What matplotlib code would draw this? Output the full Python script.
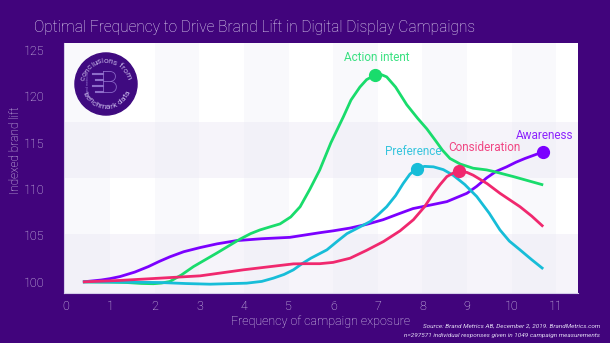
import numpy as np
import matplotlib
matplotlib.use("Agg")
import matplotlib.pyplot as plt
from matplotlib.patches import Circle

plt.rcParams['font.family'] = ['Roboto', 'DejaVu Sans']

# ---------------- data ----------------
awareness_x = [0.39, 0.8, 1.0, 1.22, 1.55, 1.86, 2.1, 2.34, 2.65, 3.02, 3.4, 3.84, 4.4, 5.03, 5.7, 6.0, 6.38, 6.75, 7.12, 7.45, 7.79, 8.2, 8.55, 9.0, 9.22, 9.44, 9.65, 9.89, 10.1, 10.3, 10.5, 10.7]
awareness_y = [100.0, 100.2, 100.35, 100.57, 101.05, 101.65, 102.2, 102.7, 103.25, 103.7, 104.1, 104.45, 104.65, 104.8, 105.3, 105.5, 105.8, 106.2, 106.7, 107.3, 107.9, 108.3, 108.65, 109.55, 110.3, 111.2, 111.9, 112.4, 112.9, 113.3, 113.65, 114.0]

action_x = [0.39, 1.0, 1.37, 1.7, 1.97, 2.15, 2.34, 2.6, 2.87, 3.39, 3.91, 4.15, 4.36, 4.6, 4.81, 5.05, 5.26, 5.48, 5.70, 5.95, 6.23, 6.4, 6.60, 6.75, 6.94, 7.05, 7.2, 7.4, 7.65, 7.9, 8.1, 8.3, 8.45, 8.62, 8.85, 9.14, 9.44, 9.6, 10.04, 10.71]
action_y = [100.0, 99.97, 99.93, 99.83, 99.8, 99.87, 100.04, 100.75, 101.65, 103.1, 104.6, 105.2, 105.6, 105.95, 106.25, 107.0, 108.1, 110.0, 112.07, 115.0, 117.8, 119.6, 121.0, 121.8, 122.3, 122.4, 122.1, 121.0, 119.1, 117.6, 116.5, 115.2, 114.2, 113.3, 112.7, 112.25, 112.07, 111.9, 111.35, 110.45]

preference_x = [0.39, 1.2, 2.12, 2.7, 3.24, 4.06, 4.4, 4.66, 4.9, 5.11, 5.3, 5.5, 5.86, 6.1, 6.31, 6.55, 6.83, 7.0, 7.2, 7.4, 7.57, 7.72, 7.87, 8.05, 8.25, 8.47, 8.69, 8.95, 9.22, 9.5, 9.74, 9.95, 10.19, 10.45, 10.71]
preference_y = [100.0, 99.98, 99.93, 99.82, 99.75, 99.86, 100.05, 100.4, 100.8, 101.3, 101.95, 102.55, 103.45, 104.4, 105.2, 105.8, 106.5, 107.2, 108.1, 109.3, 110.6, 111.6, 112.2, 112.45, 112.4, 112.1, 111.5, 110.5, 109.2, 107.4, 105.6, 104.4, 103.45, 102.4, 101.4]

consideration_x = [0.39, 1.2, 2.12, 3.02, 3.99, 4.6, 5.11, 5.4, 5.70, 6.0, 6.38, 6.75, 7.13, 7.5, 7.80, 8.05, 8.25, 8.4, 8.55, 8.7, 8.83, 9.0, 9.14, 9.45, 9.74, 10.19, 10.45, 10.71]
consideration_y = [100.0, 100.15, 100.4, 100.65, 101.3, 101.65, 101.94, 101.96, 101.96, 102.1, 102.55, 103.4, 104.35, 105.5, 106.7, 108.1, 109.55, 110.5, 111.35, 111.75, 111.9, 111.8, 111.5, 110.6, 109.55, 108.1, 107.1, 105.96]

series_names = ["Awareness", "Action intent", "Preference", "Consideration"]
series_colors = ["#7b00ff", "#19dc6c", "#17bdd8", "#f0286e"]
# highlighted point index in each series
highlight_idx = [31, 24, 22, 20]
# label anchor (data coords)
label_pos = [(10.75, 115.8), (6.97, 124.2), (7.79, 114.1), (9.38, 114.5)]

x_ticks = list(range(0, 12))
y_ticks = [100, 105, 110, 115, 120, 125]

title = "Optimal Frequency to Drive Brand Lift in Digital Display Campaigns"
x_label = "Frequency of campaign exposure"
y_label = "Indexed brand lift"
source_lines = ["Source: Brand Metrics AB, December 2, 2019. BrandMetrics.com",
                "n=297571 individual responses given in 1049 campaign measurements"]

# ---------------- figure ----------------
BG = "#41047c"
TXT = "#e2daf3"
W, H = 610, 343
fig = plt.figure(figsize=(W / 100, H / 100), dpi=100, facecolor=BG)
ax = fig.add_axes([64 / W, 1 - 293 / H, (578 - 64) / W, (293 - 43) / H])
ax.set_facecolor("white")
ax.set_xlim(-0.034, 11.49)
ax.set_ylim(98.8, 125.75)

# background bands
for lo, hi in [(98.8, 105.2), (111.2, 117.2)]:
    ax.axhspan(lo, hi, color="#f6f4fa", lw=0, zorder=0)
for lo in range(0, 12, 2):
    ax.axvspan(lo, lo + 1, color="#ececf6", alpha=0.3, lw=0, zorder=0)

xs = [awareness_x, action_x, preference_x, consideration_x]
ys = [awareness_y, action_y, preference_y, consideration_y]
for xv, yv, c, hi, name, lp in zip(xs, ys, series_colors, highlight_idx, series_names, label_pos):
    ax.plot(xv, yv, color=c, lw=2.0, solid_capstyle="butt", solid_joinstyle="round", zorder=3)
    ax.plot([xv[hi]], [yv[hi]], "o", color=c, ms=8.5, zorder=4)
    ax.text(lp[0], lp[1], name, color=c, fontsize=8.5, ha="center", va="center", alpha=0.85, zorder=5)

ax.set_xticks(x_ticks)
ax.set_yticks(y_ticks)
ax.tick_params(axis="both", length=0, colors=TXT, labelsize=9)
ax.tick_params(axis="y", pad=14)
ax.tick_params(axis="x", pad=5)
for lab in ax.get_xticklabels() + ax.get_yticklabels():
    lab.set_fontweight("light")
for s in ["top", "right"]:
    ax.spines[s].set_visible(False)
for s in ["left", "bottom"]:
    ax.spines[s].set_color("#d4cce9")
    ax.spines[s].set_linewidth(0.8)

fig.text(34 / W, 1 - 27 / H, title, color=TXT, fontsize=11.2, fontweight="light", ha="left", va="center")
fig.text(321 / W, 1 - 322 / H, x_label, color=TXT, fontsize=9, fontweight="light", ha="center", va="center")
fig.text(16 / W, 1 - 150 / H, y_label, color=TXT, fontsize=8.5, fontweight="light", rotation=90, ha="center", va="center")
fig.text(600 / W, 1 - 326 / H, source_lines[0], color=TXT, fontsize=4.6, style="italic", ha="right", va="center")
fig.text(600 / W, 1 - 335 / H, source_lines[1], color=TXT, fontsize=4.6, style="italic", ha="right", va="center")

# ---------------- logo ----------------
cx, cy, r = 106, 84, 32
lax = fig.add_axes([(cx - r) / W, 1 - (cy + r) / H, 2 * r / W, 2 * r / H])
lax.set_xlim(-1, 1)
lax.set_ylim(-1, 1)
lax.axis("off")
lax.add_patch(Circle((0, 0), 0.97, color="#3f0a80", zorder=1))
LOGO = "#c3b2e6"


def char_w(ch):
    if ch in "il":
        return 0.45
    if ch in " frt":
        return 0.65
    if ch == "m":
        return 1.5
    return 1.0


def arc_text(text, a0, a1, rad, upper):
    w = np.array([char_w(c) for c in text])
    cum = np.cumsum(w) - w / 2
    frac = cum / w.sum()
    for ch, f in zip(text, frac):
        a = a0 + (a1 - a0) * f
        t = np.deg2rad(a)
        rot = a - 90 if upper else a + 90
        lax.text(rad * np.cos(t), rad * np.sin(t), ch, rotation=rot, color=LOGO,
                 fontsize=6, ha="center", va="center", rotation_mode="anchor", zorder=3)


arc_text("conclusions from", 172, 14, 0.72, True)
arc_text("benchmark data", 200, 342, 0.72, False)
lax.text(0.1, -0.02, "B", color="#8d6cc9", fontsize=22, fontweight="light", ha="center", va="center", zorder=2)
for yy, x0 in zip([0.3, 0.12, -0.06, -0.24], [-0.42, -0.3, -0.42, -0.3]):
    lax.plot([x0, -0.1], [yy, yy], color="#8d6cc9", lw=1.5, zorder=2)
lax.text(-0.55, 0.0, "brand metrics", color="#8d6cc9", fontsize=2.5, rotation=90, ha="center", va="center", zorder=2)

fig.savefig("out.png", dpi=100, facecolor=BG)
